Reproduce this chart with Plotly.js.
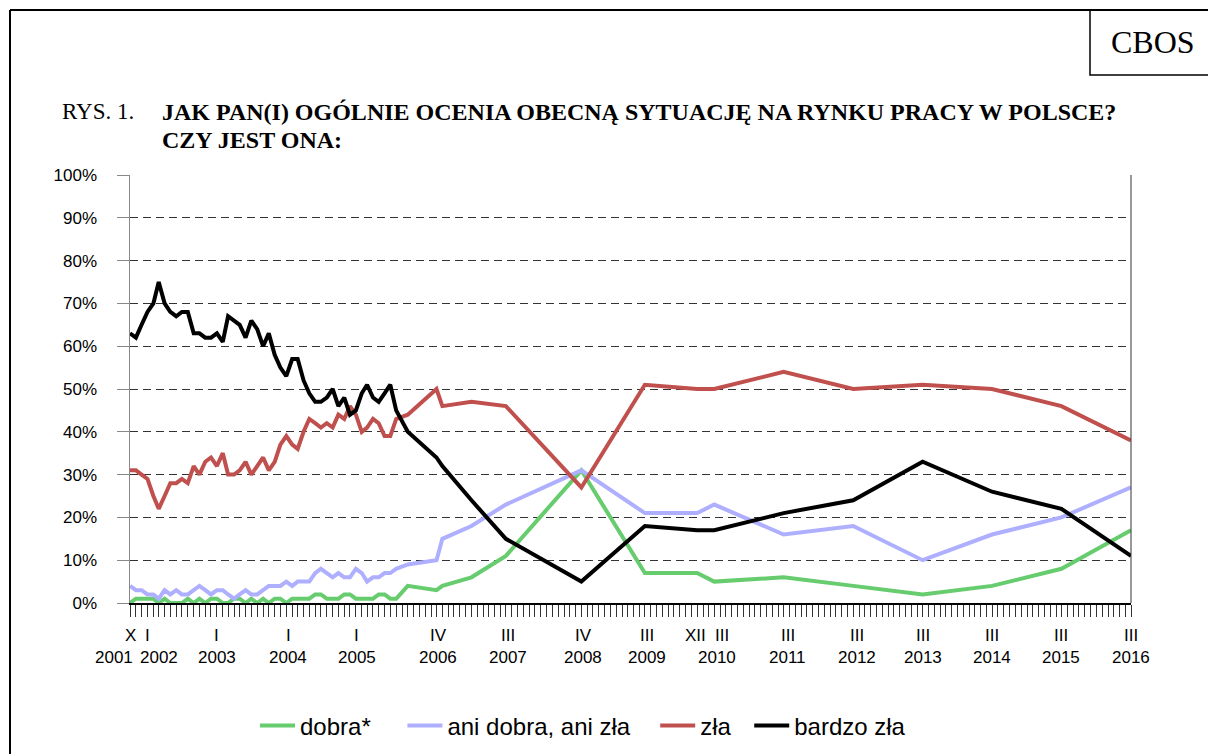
<!DOCTYPE html>
<html>
<head>
<meta charset="utf-8">
<script src="https://cdn.plot.ly/plotly-3.0.1.min.js"></script>
<style>
html,body{margin:0;padding:0;background:#fff;}
#chart{width:1208px;height:754px;}
</style>
</head>
<body>
<div id="chart"></div>
<script>
// survey dates (monthly until Oct 2005, then sparse)
const months = [
 "2001-10","2001-11","2001-12",
 "2002-01","2002-02","2002-03","2002-04","2002-05","2002-06","2002-07","2002-08","2002-09","2002-10","2002-11","2002-12",
 "2003-01","2003-02","2003-03","2003-04","2003-05","2003-06","2003-07","2003-08","2003-09","2003-10","2003-11","2003-12",
 "2004-01","2004-02","2004-03","2004-04","2004-05","2004-06","2004-07","2004-08","2004-09","2004-10","2004-11","2004-12",
 "2005-01","2005-02","2005-03","2005-04","2005-05","2005-06","2005-07","2005-08","2005-10",
 "2006-03","2006-04","2006-09","2007-03","2008-04","2009-03","2009-12","2010-03",
 "2011-03","2012-03","2013-03","2014-03","2015-03","2016-03"
];

const dobra = [
 0,1,1,
 1,1,0,1,0,0,0,1,0,1,0,1,
 1,0,0,1,1,0,1,0,1,0,1,1,
 0,1,1,1,1,2,2,1,1,1,2,2,
 1,1,1,1,2,2,1,1,4,
 3,4,6,11,31,7,7,5,
 6,4,2,4,8,17
];
const aniDobraAniZla = [
 4,3,3,
 2,2,1,3,2,3,2,2,3,4,3,2,
 3,3,2,1,2,3,2,2,3,4,4,4,
 5,4,5,5,5,7,8,7,6,7,6,6,
 8,7,5,6,6,7,7,8,9,
 10,15,18,23,31,21,21,23,
 16,18,10,16,20,27
];
const zla = [
 31,31,30,
 29,25,22,25,28,28,29,28,32,30,33,34,
 32,35,30,30,31,33,30,32,34,31,33,37,
 39,37,36,40,43,42,41,42,41,44,43,46,
 44,40,41,43,42,39,39,43,44,
 50,46,47,46,27,51,50,50,
 54,50,51,50,46,38
];
const bardzoZla = [
 63,62,65,
 68,70,75,70,68,67,68,68,63,63,62,62,
 63,61,67,66,65,62,66,64,60,63,58,55,
 53,57,57,52,49,47,47,48,50,46,48,44,
 45,49,51,48,47,49,51,45,40,
 34,32,24,15,5,18,17,17,
 21,24,33,26,22,11
];

// axis labels (two rows: month in roman numerals, year)
const tickDates = ["2001-10-01","2002-01-01","2003-01-01","2004-01-01","2005-01-01","2006-04-01",
 "2007-03-01","2008-04-01","2009-03-01","2009-12-01","2010-03-01","2011-03-01","2012-03-01",
 "2013-03-01","2014-03-01","2015-03-01","2016-03-01"];
const monthLabels = ["X","I","I","I","I","IV","III","IV","III","XII","III","III","III","III","III","III","III"];
const yearLabels = ["2001","2002","2003","2004","2005","2006","2007","2008","2009","","2010","2011","2012","2013","2014","2015","2016"];

const seriesNames = ["dobra*","ani dobra, ani zła","zła","bardzo zła"];
const seriesColors = ["#66CC6E","#AFAFFF","#C0504D","#000000"];
const seriesValues = [dobra, aniDobraAniZla, zla, bardzoZla];

// layout-only helpers: pixel -> paper, small label nudges (px)
const W=1208, H=754;
const L=130, R=1131, T=175, B=603;
const px = x => (x-L)/(R-L);
const py = y => (B-y)/(B-T);
const cy = y => (H-y)/H;
const monthShift = [0,0,0,2,1,-4,2,2,2,-2,8,4,4,0,0,0,0];
const yearShift  = [-16,12,0,2,1,-4,2,2,2,0,3,4,4,0,0,0,0];
const legendPad = ["\u00a0\u00a0\u00a0\u00a0","\u00a0\u00a0\u00a0","\u00a0\u00a0",""];

const traces = seriesNames.map((n,i)=>({
  type:'scatter', mode:'lines', name:n + legendPad[i], x:months, y:seriesValues[i],
  line:{color:seriesColors[i], width:4, shape:'linear'},
  hoverinfo:'skip'
}));

const serif = "Liberation Serif, Times New Roman, serif";
const sans = "Liberation Sans, Arial, sans-serif";

const annotations = [
  {xref:'paper', yref:'paper', x:px(1153), y:py(42), xanchor:'center', yanchor:'middle', showarrow:false,
   text:'CBOS', font:{family:serif, size:32, color:'#000'}},
  {xref:'paper', yref:'paper', x:px(60), y:py(112), xanchor:'left', yanchor:'middle', showarrow:false,
   text:'RYS. 1.', font:{family:serif, size:23, color:'#000'}},
  {xref:'paper', yref:'paper', x:px(160), y:py(112), xanchor:'left', yanchor:'middle', showarrow:false,
   text:'<b>JAK PAN(I) OGÓLNIE OCENIA OBECNĄ SYTUACJĘ NA RYNKU PRACY W POLSCE?</b>', font:{family:serif, size:24, color:'#000'}},
  {xref:'paper', yref:'paper', x:px(160), y:py(140), xanchor:'left', yanchor:'middle', showarrow:false,
   text:'<b>CZY JEST ONA:</b>', font:{family:serif, size:24, color:'#000'}}
];
tickDates.forEach((d,i)=>{
  annotations.push({xref:'x', yref:'paper', x:d, y:py(635), xanchor:'center', yanchor:'middle', showarrow:false,
    xshift:monthShift[i], text:monthLabels[i], font:{family:sans, size:17, color:'#000'}});
  if (yearLabels[i]) annotations.push({xref:'x', yref:'paper', x:d, y:py(657), xanchor:'center', yanchor:'middle', showarrow:false,
    xshift:yearShift[i], text:yearLabels[i], font:{family:sans, size:17, color:'#000'}});
});

const layout = {
  width:W, height:H,
  margin:{l:L, r:W-R, t:T, b:H-B},
  paper_bgcolor:'#fff', plot_bgcolor:'#fff',
  showlegend:true,
  legend:{orientation:'h', xref:'paper', x:px(583), xanchor:'center', yref:'container', y:cy(726), yanchor:'middle',
    font:{family:sans, size:24, color:'#000'}, itemwidth:35, traceorder:'normal'},
  xaxis:{
    type:'date', range:["2001-10-01","2016-03-01"],
    showline:true, linecolor:'#000', linewidth:1.5,
    ticks:'outside', ticklen:12, tickcolor:'#333', tickwidth:1,
    tickmode:'array', tickvals:tickDates, showticklabels:false,
    showgrid:false, zeroline:false, fixedrange:true,
    minor:{ticks:'outside', ticklen:12, tickcolor:'#333', tickwidth:1, dtick:'M1', tick0:'2001-10-01', showgrid:false}
  },
  yaxis:{
    range:[0,100], dtick:10, tick0:0, ticksuffix:'%',
    showline:true, linecolor:'#888', linewidth:1.5,
    ticks:'outside', ticklen:12, tickcolor:'#888',
    tickfont:{family:sans, size:17, color:'#000'},
    showgrid:true, gridcolor:'#333', gridwidth:1, griddash:'8px,5px',
    zeroline:false, fixedrange:true, ticklabelstandoff:16
  },
  shapes:[
    {type:'line', xref:'paper', yref:'paper', x0:1, x1:1, y0:0, y1:1, line:{color:'#333', width:1}},
    {type:'line', xref:'paper', yref:'paper', x0:px(10), x1:px(10), y0:py(10), y1:py(770), line:{color:'#000', width:2}},
    {type:'line', xref:'paper', yref:'paper', x0:px(10), x1:px(1220), y0:py(10), y1:py(10), line:{color:'#000', width:2}},
    {type:'rect', xref:'paper', yref:'paper', x0:px(1090), x1:px(1220), y0:py(75), y1:py(10), line:{color:'#000', width:1.5}}
  ],
  annotations:annotations
};

Plotly.newPlot('chart', traces, layout, {staticPlot:true, displayModeBar:false});
</script>
</body>
</html>
